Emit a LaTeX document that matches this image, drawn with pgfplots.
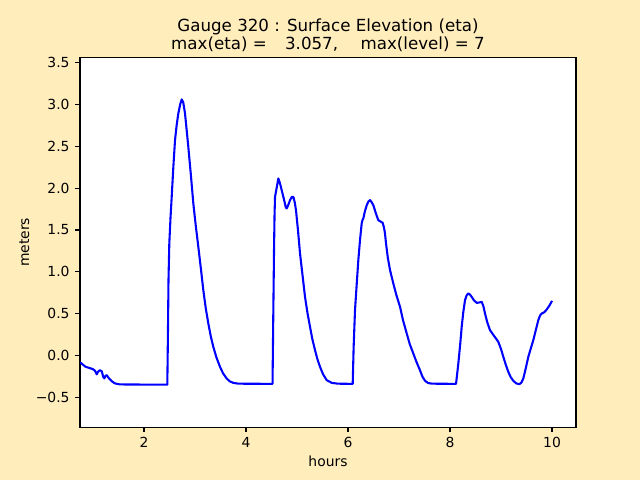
\documentclass[border=0pt]{standalone}
\usepackage{pgfplots}
\pgfplotsset{compat=1.18}
\usepackage{fontspec}
\setmainfont{DejaVu Sans}
\definecolor{bgc}{RGB}{255,237,188}
\begin{document}
\begin{tikzpicture}
\fill[bgc] (0,0) rectangle (460.8pt,345.6pt);
\begin{axis}[
  at={(57.6pt,38.016pt)}, anchor=south west,
  scale only axis, width=357.12pt, height=266.112pt,
  xmin=0.745, xmax=10.47, ymin=-0.852, ymax=3.556,
  axis background/.style={fill=white},
  axis line style={line width=0.8pt},
  tick align=outside, major tick length=3.5pt,
  every tick/.style={black, line width=0.8pt},
  xtick pos=lower, ytick pos=left,
  xtick={2,4,6,8,10}, xticklabels={2,4,6,8,10},
  ytick={-0.5,0,0.5,1,1.5,2,2.5,3,3.5},
  yticklabels={−0.5,0.0,0.5,1.0,1.5,2.0,2.5,3.0,3.5},
  ticklabel style={font=\fontsize{10}{12}\selectfont},
  xticklabel style={yshift=-0.5pt},
  yticklabel style={xshift=-0.5pt},
  xlabel={hours}, ylabel={meters},
  label style={font=\fontsize{10}{12}\selectfont},
  xlabel style={at={(axis description cs:0.5,0)}, anchor=north, yshift=-17pt},
  ylabel style={at={(axis description cs:0,0.5)}, anchor=south, rotate=0, yshift=33pt},
  title={Gauge 320 : Surface Elevation (eta)\\max(eta) =\hspace{1.1em}3.057,\hspace{1.35em}max(level) = 7},
  title style={at={(axis description cs:0.5,1)}, anchor=south, yshift=-5pt, align=center, font=\fontsize{12}{12.5}\selectfont},
  clip=true,
]
\addplot[blue, line width=1.5pt, line join=round] coordinates {
(0.745,-0.08) (0.759,-0.085) (0.85,-0.13) (0.941,-0.148) (1.00,-0.16) (1.039,-0.179)
(1.073,-0.222) (1.10,-0.19) (1.137,-0.172) (1.171,-0.185) (1.20,-0.25) (1.222,-0.270)
(1.245,-0.24) (1.269,-0.231) (1.30,-0.26) (1.333,-0.282) (1.38,-0.31) (1.431,-0.330)
(1.53,-0.342) (2.457,-0.345) (2.47,0.3) (2.48,0.9) (2.496,1.339) (2.52,1.65)
(2.543,1.895) (2.575,2.25) (2.608,2.571) (2.64,2.75) (2.673,2.89) (2.71,3.0)
(2.739,3.057) (2.77,3.02) (2.804,2.89) (2.835,2.70) (2.869,2.49) (2.92,2.15)
(2.967,1.816) (3.015,1.55) (3.065,1.299) (3.115,1.04) (3.163,0.782) (3.21,0.57)
(3.261,0.385) (3.31,0.23) (3.359,0.106) (3.42,-0.02) (3.49,-0.132) (3.55,-0.21)
(3.621,-0.271) (3.68,-0.305) (3.75,-0.323) (3.85,-0.333) (4.52,-0.335) (4.535,0.5)
(4.55,1.3) (4.56,1.7) (4.569,1.895) (4.60,2.0) (4.634,2.114) (4.665,2.06)
(4.700,1.975) (4.75,1.85) (4.78,1.77) (4.798,1.757) (4.83,1.80) (4.863,1.856)
(4.9,1.895) (4.928,1.895) (4.955,1.83) (4.98,1.736) (5.02,1.49) (5.059,1.22)
(5.11,0.95) (5.157,0.702) (5.205,0.51) (5.255,0.345) (5.30,0.2) (5.353,0.067)
(5.40,-0.04) (5.451,-0.132) (5.51,-0.22) (5.582,-0.291) (5.68,-0.323) (5.80,-0.333)
(6.092,-0.335) (6.11,0.1) (6.137,0.544) (6.17,0.85) (6.202,1.14) (6.235,1.38)
(6.268,1.578) (6.285,1.62) (6.3,1.637) (6.33,1.72) (6.367,1.796) (6.40,1.84)
(6.431,1.856) (6.465,1.83) (6.496,1.796) (6.545,1.70) (6.594,1.617) (6.64,1.60)
(6.68,1.585) (6.705,1.53) (6.725,1.458) (6.745,1.339) (6.78,1.17) (6.824,1.021)
(6.888,0.862) (6.95,0.72) (7.02,0.583) (7.08,0.42) (7.151,0.266) (7.21,0.14)
(7.28,0.027) (7.34,-0.07) (7.41,-0.172) (7.46,-0.25) (7.51,-0.299) (7.57,-0.325)
(7.65,-0.333) (8.118,-0.335) (8.163,-0.092) (8.20,0.14) (8.229,0.345) (8.26,0.52)
(8.294,0.663) (8.325,0.72) (8.359,0.743) (8.39,0.73) (8.425,0.703) (8.47,0.66)
(8.524,0.631) (8.57,0.635) (8.622,0.643) (8.655,0.59) (8.686,0.504) (8.73,0.40)
(8.784,0.305) (8.86,0.24) (8.947,0.166) (9.0,0.08) (9.045,-0.013) (9.095,-0.11)
(9.143,-0.192) (9.19,-0.255) (9.241,-0.299) (9.30,-0.33) (9.359,-0.339) (9.40,-0.32)
(9.437,-0.271) (9.485,-0.15) (9.535,-0.013) (9.585,0.09) (9.633,0.186) (9.68,0.30)
(9.731,0.425) (9.765,0.48) (9.798,0.504) (9.85,0.52) (9.896,0.552) (9.95,0.60)
(10.0,0.655)
};
\end{axis}
\end{tikzpicture}
\end{document}
